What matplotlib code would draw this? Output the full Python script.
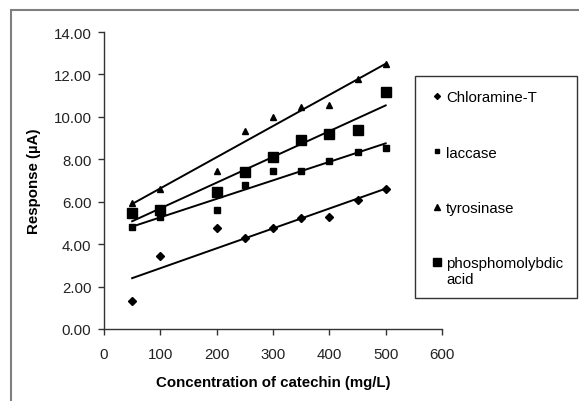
import numpy as np
import matplotlib
matplotlib.use("Agg")
import matplotlib.pyplot as plt
from matplotlib.patches import Rectangle
from matplotlib.lines import Line2D

plt.rcParams['font.family'] = ['Liberation Sans', 'DejaVu Sans']

conc = [50, 100, 200, 250, 300, 350, 400, 450, 500]
chloramine_t = [1.32, 3.46, 4.75, 4.28, 4.75, 5.23, 5.27, 6.08, 6.59]
laccase = [4.83, 5.27, 5.61, 6.81, 7.44, 7.44, 7.94, 8.33, 8.52]
tyrosinase = [5.93, 6.60, 7.47, 9.32, 9.98, 10.46, 10.58, 11.79, 12.50]
phospho = [5.47, 5.63, 6.48, 7.42, 8.12, 8.93, 9.20, 9.39, 11.16]

labels = ['Chloramine-T', 'laccase', 'tyrosinase', 'phosphomolybdic\nacid']
series = [chloramine_t, laccase, tyrosinase, phospho]
markers = ['D', 's', '^', 's']
msizes = [3.6, 4.2, 5.0, 7.8]
leg_msizes = [3.0, 3.4, 4.0, 5.4]

xticks = [0, 100, 200, 300, 400, 500, 600]
yticks = [0, 2, 4, 6, 8, 10, 12, 14]

FS = 10.8
W, H = 579, 402


def fx(px):
    return px / W


def fy(py):
    return (H - py) / H


fig = plt.figure(figsize=(W / 100, H / 100), dpi=100)
fig.patches.append(Rectangle((fx(11), -0.1), 1.2, fy(11) + 0.1,
                             transform=fig.transFigure, fill=False,
                             edgecolor='#7f7f7f', linewidth=1.5))
ax = fig.add_axes([fx(104), fy(330), fx(442) - fx(104), fy(33) - fy(330)])

x = np.array(conc, dtype=float)
for ys, m, ms, lab in zip(series, markers, msizes, labels):
    y = np.array(ys)
    ax.plot(x, y, linestyle='none', marker=m, markersize=ms,
            color='black', label=lab)
    k, b = np.polyfit(x, y, 1)
    ax.plot([x[0], x[-1]], [k * x[0] + b, k * x[-1] + b], color='black',
            linewidth=1.4)

ax.set_xlim(0, 600)
ax.set_ylim(0, 14)
ax.set_xticks(xticks)
ax.set_yticks(yticks)
ax.set_yticklabels([f'{v:.2f}' for v in yticks])
for s in ['top', 'right']:
    ax.spines[s].set_visible(False)
for s in ['left', 'bottom']:
    ax.spines[s].set_color('#333333')
    ax.spines[s].set_linewidth(1.0)
ax.tick_params(direction='out', length=4, width=1.0, colors='#333333',
               labelsize=FS, labelcolor='#222222')
ax.tick_params(axis='y', pad=5)
ax.tick_params(axis='x', pad=9)
ax.set_xlabel('Concentration of catechin (mg/L)', fontsize=FS,
              fontweight='bold', labelpad=10)
ax.set_ylabel('Response (µA)', fontsize=FS, fontweight='bold', labelpad=9)

# legend box (drawn manually to match the reference layout)
fig.patches.append(Rectangle((fx(415), fy(299)), fx(577) - fx(415),
                             fy(77) - fy(299), transform=fig.transFigure,
                             fill=True, facecolor='white',
                             edgecolor='#333333', linewidth=1.0, zorder=5))
row_y = [97, 152, 208, 263]
for lab, m, ms, ry in zip(labels, markers, leg_msizes, row_y):
    fig.add_artist(Line2D([fx(437)], [fy(ry)], marker=m, markersize=ms,
                          color='black', linestyle='none',
                          transform=fig.transFigure, zorder=6))
    nlines = lab.count('\n') + 1
    if nlines == 1:
        fig.text(fx(446), fy(ry), lab, fontsize=FS, va='center_baseline',
                 ha='left', zorder=6)
    else:
        fig.text(fx(446), fy(ry + 9), lab, fontsize=FS, va='center',
                 ha='left', linespacing=1.15, zorder=6)

fig.savefig('out.png', dpi=100)
